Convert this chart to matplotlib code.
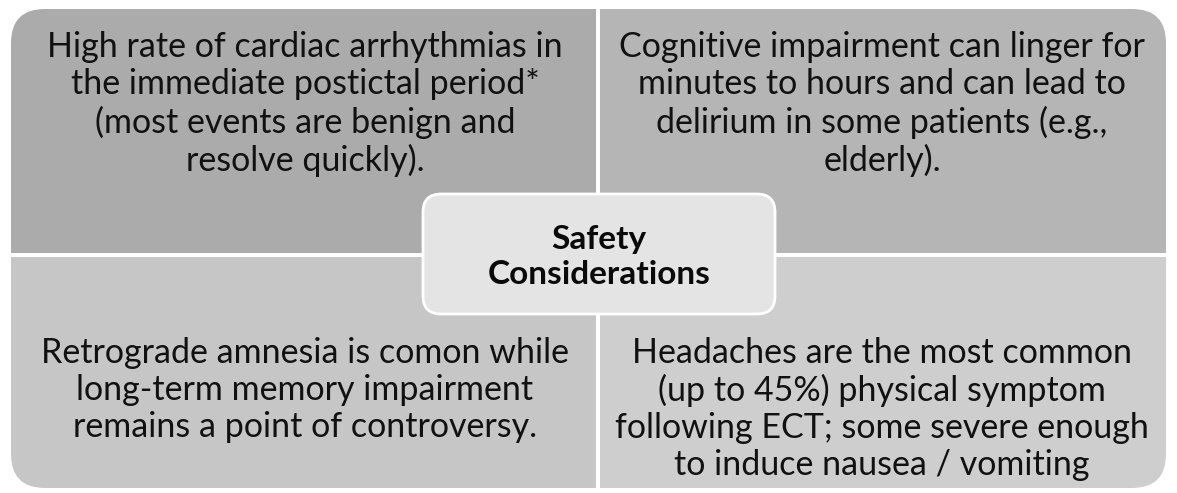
import matplotlib.pyplot as plt
from matplotlib.patches import FancyBboxPatch, Rectangle

# quadrant texts (top-left, top-right, bottom-left, bottom-right)
quad_texts = [
    "High rate of cardiac arrhythmias in\nthe immediate postictal period*\n(most events are benign and\nresolve quickly).",
    "Cognitive impairment can linger for\nminutes to hours and can lead to\ndelirium in some patients (e.g.,\nelderly).",
    "Retrograde amnesia is comon while\nlong-term memory impairment\nremains a point of controversy.",
    "Headaches are the most common\n(up to 45%) physical symptom\nfollowing ECT; some severe enough\nto induce nausea / vomiting",
]
quad_colors = ["#ababab", "#b5b5b5", "#c6c6c6", "#cecece"]
center_label = "Safety\nConsiderations"

W, H = 1177, 493
fig = plt.figure(figsize=(W / 100, H / 100), dpi=100)
ax = fig.add_axes([0, 0, 1, 1])
ax.set_xlim(0, W)
ax.set_ylim(H, 0)
ax.axis("off")

x0, x1, y0, y1 = 11, 1166, 9, 488
xm, ym = 598, 255
gap = 2
rects = [
    (x0, y0, xm - gap - x0, ym - gap - y0),
    (xm + gap, y0, x1 - xm - gap, ym - gap - y0),
    (x0, ym + gap, xm - gap - x0, y1 - ym - gap),
    (xm + gap, ym + gap, x1 - xm - gap, y1 - ym - gap),
]
text_pos = [(305, 104), (882, 104), (305, 390), (882, 409)]

for (rx, ry, rw, rh), col, txt, (tx, ty) in zip(rects, quad_colors, quad_texts, text_pos):
    clip = Rectangle((rx, ry), rw, rh, transform=ax.transData, facecolor="none", edgecolor="none")
    ax.add_patch(clip)
    big = FancyBboxPatch((x0, y0), x1 - x0, y1 - y0, boxstyle="round,pad=0,rounding_size=34",
                         facecolor=col, edgecolor="none")
    ax.add_patch(big)
    big.set_clip_path(clip)
    ax.text(tx, ty, txt, ha="center", va="center", fontsize=24.5, family="Lato",
            color="#111111", linespacing=1.2)

# center box
ax.add_patch(FancyBboxPatch((423, 194), 352, 120, boxstyle="round,pad=0,rounding_size=18",
                            facecolor="#e4e4e4", edgecolor="white", linewidth=2))
ax.text(599, 257, center_label, ha="center", va="center", fontsize=24, family="Lato",
        fontweight="bold", color="#0a0a0a", linespacing=1.25)

fig.savefig("out.png", dpi=100, facecolor="white")
